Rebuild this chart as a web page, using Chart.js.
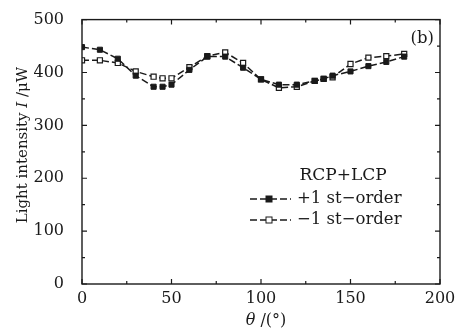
<!DOCTYPE html>
<html>
<head>
<meta charset="utf-8">
<script src="https://cdn.jsdelivr.net/npm/chart.js@4.4.1/dist/chart.umd.min.js"></script>
<style>
  html, body { margin: 0; padding: 0; background: #fff; }
  canvas { display: block; }
</style>
</head>
<body>
<canvas id="myChart" width="457" height="334"></canvas>
<script>
// rotation angle (deg)
const angles = [0, 10, 20, 30, 40, 45, 50, 60, 70, 80, 90, 100, 110, 120, 130, 135, 140, 150, 160, 170, 180];
// +1 st-order intensity (uW)
const plusOrder = [448, 443, 426, 394, 373, 373, 377, 405, 430, 430, 409, 387, 377, 377, 384, 388, 394, 402, 412, 420, 430];
// -1 st-order intensity (uW)
const minusOrder = [423, 423, 418, 402, 392, 389, 389, 410, 431, 438, 418, 387, 371, 373, 384, 388, 391, 416, 428, 431, 435];

const xTicks = [0, 50, 100, 150, 200];
const yTicks = [0, 100, 200, 300, 400, 500];
const legendTitle = 'RCP+LCP';
const seriesNames = ['+1 st\u2212order', '\u22121 st\u2212order'];

const FONT = 'DejaVu Serif';
const INK = '#1a1a1a';

const toPoints = (ys) => angles.map((a, i) => ({ x: a, y: ys[i] }));

// frame, inward ticks, titles, panel tag and legend
const decor = {
	id: 'decor',
	afterDraw(chart) {
		const { ctx, chartArea: a, scales } = chart;
		const sx = scales.x, sy = scales.y;
		ctx.save();
		ctx.strokeStyle = INK;
		ctx.lineWidth = 1.4;
		ctx.strokeRect(a.left, a.top, a.right - a.left, a.bottom - a.top);

		ctx.lineWidth = 1.2;
		ctx.beginPath();
		for (let v = 0; v <= 200; v += 25) {
			const px = sx.getPixelForValue(v);
			const len = v % 50 === 0 ? 5 : 3;
			ctx.moveTo(px, a.bottom); ctx.lineTo(px, a.bottom - len);
			ctx.moveTo(px, a.top); ctx.lineTo(px, a.top + len);
		}
		for (let v = 0; v <= 500; v += 50) {
			const py = sy.getPixelForValue(v);
			const len = v % 100 === 0 ? 5 : 3;
			ctx.moveTo(a.left, py); ctx.lineTo(a.left + len, py);
			ctx.moveTo(a.right, py); ctx.lineTo(a.right - len, py);
		}
		ctx.stroke();

		ctx.fillStyle = INK;
		ctx.textBaseline = 'middle';

		// y title with italic I
		ctx.save();
		ctx.translate(23, 145);
		ctx.rotate(-Math.PI / 2);
		const segs = [
			{ t: 'Light intensity ', f: `15px ${FONT}` },
			{ t: 'I', f: `italic 15px ${FONT}` },
			{ t: ' /\u03BCW', f: `15px ${FONT}` },
		];
		let total = 0;
		segs.forEach(s => { ctx.font = s.f; total += ctx.measureText(s.t).width; });
		let cx = -total / 2;
		ctx.textAlign = 'left';
		segs.forEach(s => { ctx.font = s.f; ctx.fillText(s.t, cx, 0); cx += ctx.measureText(s.t).width; });
		ctx.restore();

		// x title with italic theta
		const xsegs = [
			{ t: '\u03B8', f: `italic 16px ${FONT}` },
			{ t: ' /(\u00B0)', f: `16px ${FONT}` },
		];
		total = 0;
		xsegs.forEach(s => { ctx.font = s.f; total += ctx.measureText(s.t).width; });
		cx = 266 - total / 2;
		ctx.textAlign = 'left';
		xsegs.forEach(s => { ctx.font = s.f; ctx.fillText(s.t, cx, 321); cx += ctx.measureText(s.t).width; });

		// panel tag
		ctx.font = `16.5px ${FONT}`;
		ctx.textAlign = 'right';
		ctx.fillText('(b)', a.right - 6, a.top + 19);

		// legend
		ctx.font = `17px ${FONT}`;
		ctx.textAlign = 'center';
		ctx.fillText(legendTitle, 343, 176);
		ctx.font = `16.5px ${FONT}`;
		ctx.textAlign = 'left';
		chart.data.datasets.forEach((ds, i) => {
			const y = 199 + i * 21;
			ctx.strokeStyle = ds.borderColor;
			ctx.lineWidth = ds.borderWidth;
			ctx.setLineDash(ds.borderDash);
			ctx.beginPath();
			ctx.moveTo(250, y); ctx.lineTo(291, y);
			ctx.stroke();
			ctx.setLineDash([]);
			ctx.fillStyle = ds.pointBackgroundColor;
			ctx.fillRect(266, y - 3, 6, 6);
			ctx.lineWidth = 1;
			ctx.strokeRect(266, y - 3, 6, 6);
			ctx.fillStyle = INK;
			ctx.fillText(ds.label, 297, y);
		});
		ctx.restore();
	}
};

new Chart(document.getElementById('myChart'), {
	type: 'line',
	data: {
		datasets: [
			{
				label: seriesNames[0],
				data: toPoints(plusOrder),
				borderColor: INK,
				borderWidth: 1.5,
				borderDash: [7, 3],
				pointStyle: 'rect',
				pointRadius: 3.6,
				pointBorderWidth: 1,
				pointBorderColor: INK,
				pointBackgroundColor: INK,
			},
			{
				label: seriesNames[1],
				data: toPoints(minusOrder),
				borderColor: INK,
				borderWidth: 1.5,
				borderDash: [7, 3],
				pointStyle: 'rect',
				pointRadius: 3.6,
				pointBorderWidth: 1.2,
				pointBorderColor: INK,
				pointBackgroundColor: '#fff',
			},
		],
	},
	options: {
		responsive: false,
		animation: false,
		devicePixelRatio: 1,
		layout: { padding: { left: 0, top: 15, right: 17, bottom: 0 } },
		plugins: { legend: { display: false }, tooltip: { enabled: false } },
		scales: {
			x: {
				type: 'linear',
				min: 0, max: 200,
				afterFit: (s) => { s.height = 50; },
				afterBuildTicks: (s) => { s.ticks = xTicks.map(v => ({ value: v })); },
				grid: { display: false },
				border: { display: false },
				ticks: { color: INK, font: { family: FONT, size: 16 }, padding: -3, maxRotation: 0 },
			},
			y: {
				min: 0, max: 500,
				afterFit: (s) => { s.width = 82; },
				afterBuildTicks: (s) => { s.ticks = yTicks.map(v => ({ value: v })); },
				grid: { display: false },
				border: { display: false },
				ticks: { color: INK, font: { family: FONT, size: 16 }, padding: 10 },
			},
		},
	},
	plugins: [decor],
});
</script>
</body>
</html>
